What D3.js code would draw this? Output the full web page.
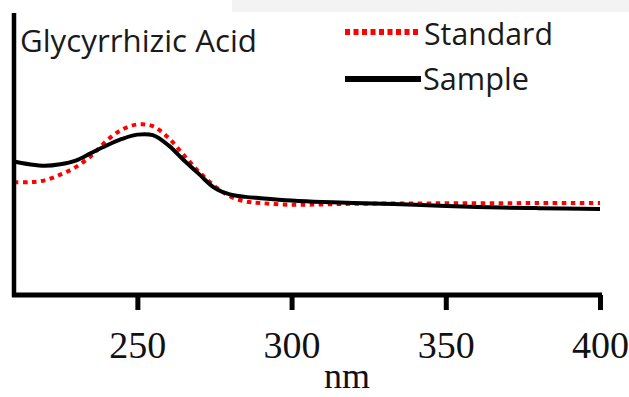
<!DOCTYPE html>
<html>
<head>
<meta charset="utf-8">
<script src="https://cdn.jsdelivr.net/npm/d3@7"></script>
<style>
  html, body { margin: 0; padding: 0; background: #fff; }
  svg { display: block; }
</style>
</head>
<body>
<div id="chart"></div>
<script>
// wavelength grid (nm)
const wavelengths = [210, 215, 220, 225, 230, 235, 240, 245, 250, 255, 260, 265, 270,
                     275, 280, 285, 290, 300, 310, 320, 340, 360, 380, 400];
// absorbance (arbitrary units)
const standardValues = [0.60, 0.60, 0.61, 0.64, 0.68, 0.74, 0.82, 0.88, 0.907, 0.898, 0.837, 0.745, 0.655,
                        0.58, 0.525, 0.498, 0.489, 0.48, 0.482, 0.485, 0.487, 0.488, 0.489, 0.49];
const sampleValues = [0.71, 0.695, 0.687, 0.695, 0.715, 0.755, 0.795, 0.83, 0.853, 0.85, 0.797, 0.718, 0.643,
                      0.57, 0.535, 0.522, 0.515, 0.503, 0.495, 0.49, 0.48, 0.468, 0.462, 0.457];
const xTicks = [250, 300, 350, 400];
const seriesNames = ['Standard', 'Sample'];

const width = 629, height = 397;

const svg = d3.select('#chart').append('svg')
  .attr('width', width)
  .attr('height', height);

// faint grey band along the top edge of the screenshot
svg.append('rect')
  .attr('x', 232).attr('y', 0)
  .attr('width', width - 232).attr('height', 12)
  .attr('fill', '#f3f3f3');

const x = d3.scaleLinear().domain([210, 400]).range([14, 600]);
const y = d3.scaleLinear().domain([0, 1.5]).range([295, 13]);

const line = d3.line()
  .x(d => x(d[0]))
  .y(d => y(d[1]))
  .curve(d3.curveCatmullRom.alpha(0.5));

const standard = wavelengths.map((w, i) => [w, standardValues[i]]);
const sample = wavelengths.map((w, i) => [w, sampleValues[i]]);

svg.append('path')
  .datum(standard)
  .attr('d', line)
  .attr('fill', 'none')
  .attr('stroke', '#ff0000')
  .attr('stroke-width', 4)
  .attr('stroke-dasharray', '4.5,4.5');

svg.append('path')
  .datum(sample)
  .attr('d', line)
  .attr('fill', 'none')
  .attr('stroke', '#000')
  .attr('stroke-width', 4);

// axes
const xAxis = svg.append('g')
  .attr('transform', 'translate(0,295)')
  .call(d3.axisBottom(x).tickValues(xTicks).tickSize(15).tickPadding(21));
xAxis.select('.domain')
  .attr('d', 'M12,0H602')
  .attr('stroke', '#000')
  .attr('stroke-width', 5);
xAxis.selectAll('.tick line')
  .attr('stroke', '#000')
  .attr('stroke-width', 5);
xAxis.selectAll('.tick text')
  .attr('font-family', '"Liberation Serif", "Times New Roman", serif')
  .attr('font-size', 38)
  .attr('fill', '#111');

const yAxis = svg.append('g')
  .attr('transform', 'translate(14,0)')
  .call(d3.axisLeft(y).tickValues([]).tickSizeOuter(0));
yAxis.select('.domain')
  .attr('d', 'M0,13V297')
  .attr('stroke', '#000')
  .attr('stroke-width', 4.5);

svg.append('text')
  .attr('x', 347).attr('y', 388)
  .attr('text-anchor', 'middle')
  .attr('font-family', '"Liberation Serif", "Times New Roman", serif')
  .attr('font-size', 36)
  .attr('fill', '#111')
  .text('nm');

// fit a label to the width it has in the picture
function fitText(sel, targetWidth) {
  const size = +sel.attr('font-size');
  const w = sel.node().getComputedTextLength();
  sel.attr('font-size', (size * targetWidth / w).toFixed(2));
}

const sansFont = '"Open Sans", "Noto Sans", sans-serif';

const title = svg.append('text')
  .attr('x', 20).attr('y', 52)
  .attr('font-family', sansFont)
  .attr('font-size', 26)
  .attr('fill', '#1a1a1a')
  .text('Glycyrrhizic Acid');
fitText(title, 237);

// legend
const legend = svg.append('g');
const legendRows = [
  { name: seriesNames[0], ly: 32, ty: 45, tx: 424, w: 129, color: '#ff0000', dash: '5,3.5' },
  { name: seriesNames[1], ly: 79, ty: 90, tx: 423, w: 106, color: '#000', dash: null }
];
legendRows.forEach(r => {
  legend.append('line')
    .attr('x1', 345).attr('x2', 421)
    .attr('y1', r.ly).attr('y2', r.ly)
    .attr('stroke', r.color)
    .attr('stroke-width', 6)
    .attr('stroke-dasharray', r.dash);
  const t = legend.append('text')
    .attr('x', r.tx).attr('y', r.ty)
    .attr('font-family', sansFont)
    .attr('font-size', 28)
    .attr('fill', '#1a1a1a')
    .text(r.name);
  fitText(t, r.w);
});
</script>
</body>
</html>
